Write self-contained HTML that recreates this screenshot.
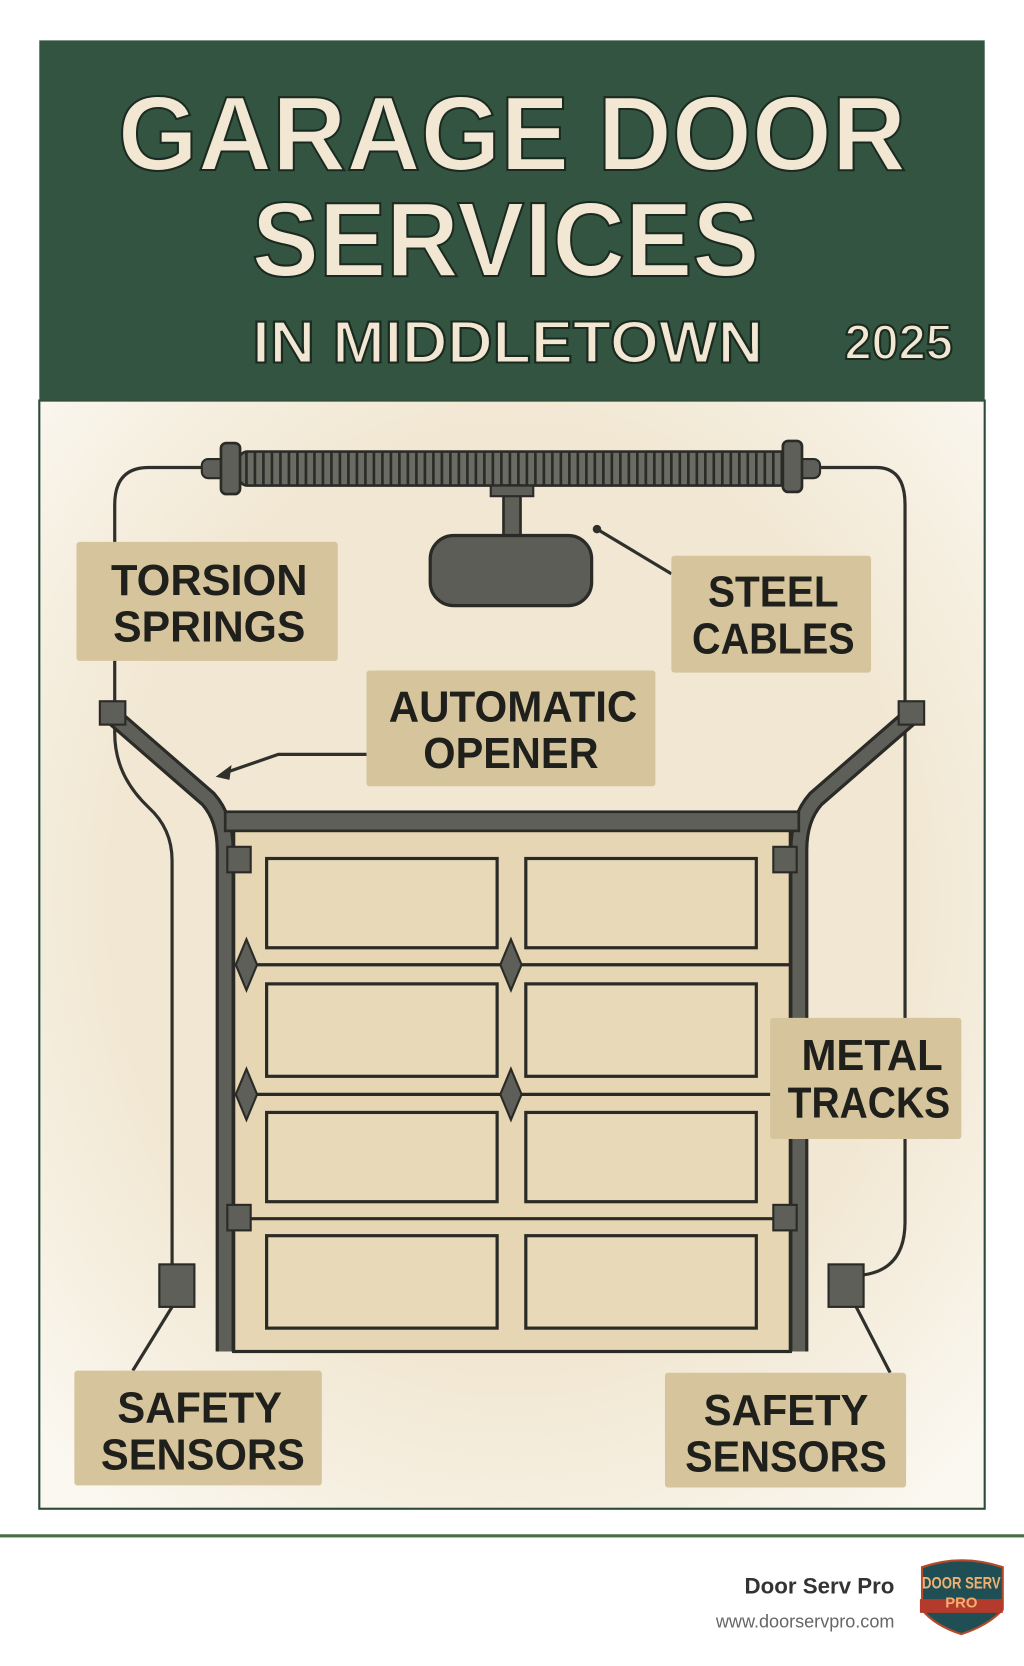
<!DOCTYPE html>
<html><head><meta charset="utf-8"><style>
html,body{margin:0;padding:0;background:#fff;}
svg{display:block;}
</style></head><body>
<svg width="1024" height="1666" viewBox="0 0 964 1568" preserveAspectRatio="none" xmlns="http://www.w3.org/2000/svg">
<defs>
<radialGradient id="bg" cx="0.5" cy="0.45" r="0.7">
<stop offset="0.6" stop-color="#f1e7d2"/><stop offset="1" stop-color="#fbf8f1"/>
</radialGradient>
</defs>
<rect x="0" y="0" width="964" height="1568" fill="#fff"/>
<rect x="37" y="377" width="890" height="1043" fill="url(#bg)" stroke="#2d4a3a" stroke-width="2"/>
<rect x="37" y="38" width="890" height="339" fill="#335440"/>
<g font-family="Liberation Sans, sans-serif" font-weight="bold" fill="#f1e7d3" stroke="#1b2a20" stroke-width="2" text-anchor="middle">
<text x="482" y="160" font-size="100" textLength="742" lengthAdjust="spacingAndGlyphs">GARAGE DOOR</text>
<text x="476" y="260" font-size="100" textLength="478" lengthAdjust="spacingAndGlyphs">SERVICES</text>
<text x="478" y="341" font-size="56" textLength="481" lengthAdjust="spacingAndGlyphs">IN MIDDLETOWN</text>
<text x="846" y="338" font-size="46" textLength="102" lengthAdjust="spacingAndGlyphs">2025</text>
</g>
<g fill="none" stroke="#2f302c" stroke-width="3">
<path d="M195 440 H140 Q108 440 108 475 V690 Q108 730 140 760 Q162 780 162 810 V1190"/>
<path d="M770 440 H825 Q852 440 852 475 V1150 Q852 1195 812 1200"/>
<path d="M562 498 L632 540"/>
<path d="M125 1290 L162 1230"/>
<path d="M838 1292 L806 1230"/>
<path d="M345 710 H262 L210 728"/>
</g>
<circle cx="562" cy="498" r="4" fill="#2f302c"/>
<path d="M203 731 L218 720 L216 734 Z" fill="#2f302c"/>
<rect x="190" y="432" width="582" height="18" rx="6" fill="#5e5f58" stroke="#2a2b27" stroke-width="2"/>
<rect x="225" y="425" width="520" height="32" rx="8" fill="#6a6b63" stroke="#2a2b27" stroke-width="2.5"/>
<g stroke="#2a2b27" stroke-width="2.5">
<path d="M232 426 V456 M240 426 V456 M248 426 V456 M256 426 V456 M264 426 V456 M272 426 V456 M280 426 V456 M288 426 V456 M296 426 V456 M304 426 V456 M312 426 V456 M320 426 V456 M328 426 V456 M336 426 V456 M344 426 V456 M352 426 V456 M360 426 V456 M368 426 V456 M376 426 V456 M384 426 V456 M392 426 V456 M400 426 V456 M408 426 V456 M416 426 V456 M424 426 V456 M432 426 V456 M440 426 V456 M448 426 V456 M456 426 V456 M464 426 V456 M472 426 V456 M480 426 V456 M488 426 V456 M496 426 V456 M504 426 V456 M512 426 V456 M520 426 V456 M528 426 V456 M536 426 V456 M544 426 V456 M552 426 V456 M560 426 V456 M568 426 V456 M576 426 V456 M584 426 V456 M592 426 V456 M600 426 V456 M608 426 V456 M616 426 V456 M624 426 V456 M632 426 V456 M640 426 V456 M648 426 V456 M656 426 V456 M664 426 V456 M672 426 V456 M680 426 V456 M688 426 V456 M696 426 V456 M704 426 V456 M712 426 V456 M720 426 V456 M728 426 V456 M736 426 V456"/>
</g>
<rect x="208" y="417" width="18" height="48" rx="5" fill="#5e5f58" stroke="#2a2b27" stroke-width="2.5"/>
<rect x="737" y="415" width="18" height="48" rx="5" fill="#5e5f58" stroke="#2a2b27" stroke-width="2.5"/>
<rect x="474" y="457" width="16" height="50" fill="#5e5f58" stroke="#2a2b27" stroke-width="2.5"/>
<rect x="462" y="457" width="40" height="10" fill="#5e5f58" stroke="#2a2b27" stroke-width="2"/>
<rect x="405" y="504" width="152" height="66" rx="22" fill="#5c5d56" stroke="#2a2b27" stroke-width="3"/>
<g fill="none" stroke-linejoin="round">
<path d="M104 672 L196 752 Q212 770 212 800 V1272" stroke="#2a2b27" stroke-width="18"/>
<path d="M104 672 L196 752 Q212 770 212 800 V1272" stroke="#5e5f58" stroke-width="12"/>
<path d="M860 672 L768 752 Q752 770 752 800 V1272" stroke="#2a2b27" stroke-width="18"/>
<path d="M860 672 L768 752 Q752 770 752 800 V1272" stroke="#5e5f58" stroke-width="12"/>
</g>
<rect x="94" y="660" width="24" height="22" fill="#5e5f58" stroke="#2a2b27" stroke-width="2"/>
<rect x="846" y="660" width="24" height="22" fill="#5e5f58" stroke="#2a2b27" stroke-width="2"/>
<rect x="220" y="780" width="524" height="492" fill="#e6d6b4" stroke="#2a2b27" stroke-width="3"/>
<rect x="212" y="764" width="540" height="18" fill="#5e5f58" stroke="#2a2b27" stroke-width="2.5"/>
<g stroke="#2a2b27" stroke-width="3">
<path d="M220 908 H744 M220 1030 H744 M220 1147 H744"/>
</g>
<g fill="#e8d9b8" stroke="#2a2b27" stroke-width="3">
<rect x="251" y="808" width="217" height="84"/><rect x="495" y="808" width="217" height="84"/>
<rect x="251" y="926" width="217" height="87"/><rect x="495" y="926" width="217" height="87"/>
<rect x="251" y="1047" width="217" height="84"/><rect x="495" y="1047" width="217" height="84"/>
<rect x="251" y="1163" width="217" height="87"/><rect x="495" y="1163" width="217" height="87"/>
</g>
<g fill="#5e5f58" stroke="#2a2b27" stroke-width="2">
<path d="M232 884 L242 908 L232 932 L222 908 Z"/><path d="M481 884 L491 908 L481 932 L471 908 Z"/>
<path d="M232 1006 L242 1030 L232 1054 L222 1030 Z"/><path d="M481 1006 L491 1030 L481 1054 L471 1030 Z"/>
<rect x="214" y="797" width="22" height="24"/><rect x="728" y="797" width="22" height="24"/>
<rect x="214" y="1134" width="22" height="24"/><rect x="728" y="1134" width="22" height="24"/>
<rect x="150" y="1190" width="33" height="40"/><rect x="780" y="1190" width="33" height="40"/>
</g>
<g fill="#d6c49c">
<rect x="72" y="510" width="246" height="112" rx="3"/>
<rect x="632" y="523" width="188" height="110" rx="3"/>
<rect x="345" y="631" width="272" height="109" rx="3"/>
<rect x="725" y="958" width="180" height="114" rx="3"/>
<rect x="70" y="1290" width="233" height="108" rx="3"/>
<rect x="626" y="1292" width="227" height="108" rx="3"/>
</g>
<g font-family="Liberation Sans, sans-serif" font-weight="bold" fill="#1f1f1b" font-size="41" text-anchor="middle" lengthAdjust="spacingAndGlyphs">
<text x="197" y="560" textLength="185" lengthAdjust="spacingAndGlyphs">TORSION</text><text x="197" y="604" textLength="181" lengthAdjust="spacingAndGlyphs">SPRINGS</text>
<text x="728" y="571" textLength="123" lengthAdjust="spacingAndGlyphs">STEEL</text><text x="728" y="615" textLength="153" lengthAdjust="spacingAndGlyphs">CABLES</text>
<text x="483" y="679" textLength="234" lengthAdjust="spacingAndGlyphs">AUTOMATIC</text><text x="481" y="723" textLength="165" lengthAdjust="spacingAndGlyphs">OPENER</text>
<text x="821" y="1007" textLength="133" lengthAdjust="spacingAndGlyphs">METAL</text><text x="818" y="1052" textLength="153" lengthAdjust="spacingAndGlyphs">TRACKS</text>
<text x="188" y="1339" textLength="155" lengthAdjust="spacingAndGlyphs">SAFETY</text><text x="191" y="1383" textLength="192" lengthAdjust="spacingAndGlyphs">SENSORS</text>
<text x="740" y="1341" textLength="155" lengthAdjust="spacingAndGlyphs">SAFETY</text><text x="740" y="1385" textLength="190" lengthAdjust="spacingAndGlyphs">SENSORS</text>
</g>
<rect x="0" y="1444" width="964" height="3" fill="#4a6e4a"/>
<text x="842" y="1500" font-family="Liberation Sans, sans-serif" font-weight="bold" font-size="21" fill="#333" text-anchor="end">Door Serv Pro</text>
<text x="842" y="1532" font-family="Liberation Sans, sans-serif" font-size="17" fill="#666" text-anchor="end">www.doorservpro.com</text>
<path d="M868 1475 Q905 1462 944 1475 V1515 Q930 1530 905 1538 Q880 1530 868 1515 Z" fill="#1f4f55" stroke="#b54a2a" stroke-width="2"/>
<path d="M866 1505 H944 V1518 H866 Z" fill="#b43b2b"/>
<text x="905" y="1495" font-family="Liberation Sans, sans-serif" font-weight="bold" font-size="16" fill="#f0b070" text-anchor="middle" textLength="74" lengthAdjust="spacingAndGlyphs">DOOR SERV</text>
<text x="905" y="1513" font-family="Liberation Sans, sans-serif" font-weight="bold" font-size="14" fill="#f0b070" text-anchor="middle">PRO</text>
</svg>
</body></html>
